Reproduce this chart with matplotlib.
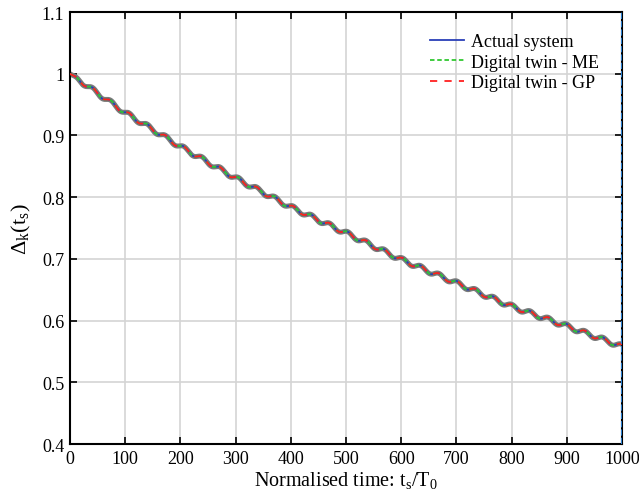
import numpy as np
import matplotlib
matplotlib.use('Agg')
import matplotlib.pyplot as plt

# values (trend of Delta_k at every 100 t_s/T_0)
t_read = [0, 100, 200, 300, 400, 500, 600, 700, 800, 900, 1000]
delta_read = [1.0, 0.937, 0.882, 0.831, 0.784, 0.742, 0.699, 0.661, 0.623, 0.591, 0.558]
ripple_amp = 0.0035      # small oscillation seen on all curves
ripple_period = 33.0

x_ticks = [0, 100, 200, 300, 400, 500, 600, 700, 800, 900, 1000]
y_ticks = [0.4, 0.5, 0.6, 0.7, 0.8, 0.9, 1.0, 1.1]
y_ticklabels = ['0.4', '0.5', '0.6', '0.7', '0.8', '0.9', '1', '1.1']

plt.rcParams['font.family'] = ['Liberation Serif', 'DejaVu Serif']
plt.rcParams['mathtext.fontset'] = 'custom'
plt.rcParams['mathtext.rm'] = 'Liberation Serif'

t = np.linspace(0, 1000, 3001)
trend = np.interp(t, t_read, delta_read)
ripple = ripple_amp * np.sin(2 * np.pi * t / ripple_period) * np.minimum(1, t / 20)
actual = trend + ripple

fig = plt.figure(figsize=(6.39, 5.02), dpi=100)
ax = fig.add_axes([0.1095, 0.1135, 0.864, 0.8605])

ax.plot(t, actual, color='#7a7a7a', lw=3.6, zorder=2)
ax.plot(t, actual, color='#2a3fb8', lw=1.3, label='Actual system', zorder=3)
ax.plot(t, actual, color='#30c830', lw=1.3, ls=(0, (2.5, 1.5)), label='Digital twin - ME', zorder=4)
ax.plot(t, actual, color='#ff2020', lw=1.3, ls=(0, (4, 4)), label='Digital twin - GP', zorder=5)
ax.axvline(1000, color='#2a7fd0', lw=1.5, ls=(0, (3, 1)), zorder=6)

ax.set_xlim(0, 1000)
ax.set_ylim(0.4, 1.1)
ax.set_xticks(x_ticks)
ax.set_yticks(y_ticks)
ax.set_yticklabels(y_ticklabels)
ax.grid(True, color='#d4d4d4', lw=1.2)
ax.set_axisbelow(True)
ax.tick_params(direction='in', labelsize=13, length=5, width=1.2, top=True, right=True, pad=4)
for s in ax.spines.values():
    s.set_linewidth(1.5)

ax.set_xlabel(r'Normalised time: $\mathrm{t_s/T_0}$', fontsize=14.5, labelpad=2)
ax.set_ylabel(r'$\mathrm{\Delta_k(t_s)}$', fontsize=16, labelpad=6)

ax.legend(loc='upper right', frameon=False, fontsize=13, handlelength=1.9,
          handletextpad=0.4, labelspacing=0.2, borderaxespad=0.4, bbox_to_anchor=(0.985, 0.985))

fig.savefig('out.png', dpi=100)
